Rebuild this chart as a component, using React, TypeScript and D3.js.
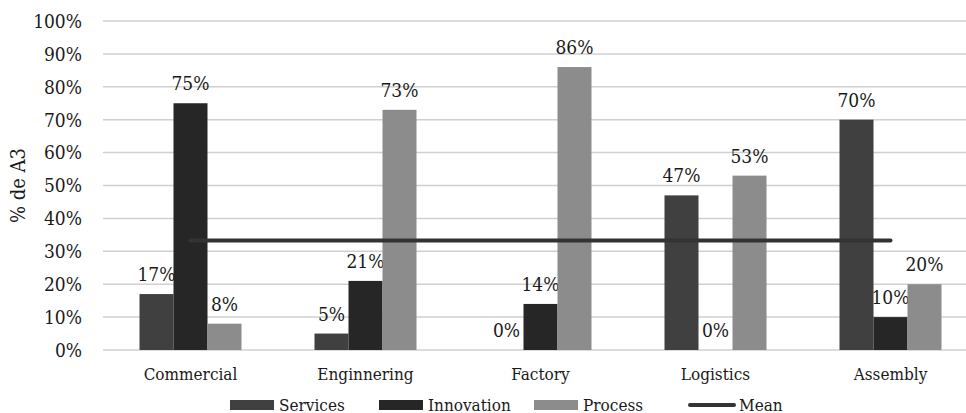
import React from "react";
import * as d3 from "d3";

const categories = ["Commercial", "Enginnering", "Factory", "Logistics", "Assembly"];
const seriesNames = ["Services", "Innovation", "Process"];
const services = [17, 5, 0, 47, 70];
const innovation = [75, 21, 14, 0, 10];
const process = [8, 73, 86, 53, 20];
const meanValue = 33.3;
const yTicks = [0, 10, 20, 30, 40, 50, 60, 70, 80, 90, 100];

const colors = ["#404040", "#262626", "#8c8c8c"];
const meanColor = "#333333";
const FONT = "'DejaVu Serif Condensed', 'DejaVu Serif', serif";

export default function App() {
  const width = 966;
  const height = 413;
  const left = 103;
  const bandW = 175;
  const x = d3
    .scaleBand<string>()
    .domain(categories)
    .range([left, left + bandW * categories.length])
    .paddingInner(0)
    .paddingOuter(0);
  const y = d3.scaleLinear().domain([0, 100]).range([350, 21]);
  const barW = 34;
  const series = [services, innovation, process];

  const legendItems = [
    { name: seriesNames[0], x: 230, kind: "rect", color: colors[0] },
    { name: seriesNames[1], x: 379, kind: "rect", color: colors[1] },
    { name: seriesNames[2], x: 534, kind: "rect", color: colors[2] },
    { name: "Mean", x: 690, kind: "line", color: meanColor },
  ];

  const first = x(categories[0])! + x.bandwidth() / 2;
  const last = x(categories[categories.length - 1])! + x.bandwidth() / 2;

  const textStyle = { fontFamily: FONT, fontStretch: "condensed" as const };

  return (
    <svg width={width} height={height} style={{ position: "absolute", left: 0, top: 0 }}>
      <rect width={width} height={height} fill="#ffffff" />
      {yTicks.map((t) => (
        <g key={t}>
          <line x1={left} x2={width} y1={y(t)} y2={y(t)} stroke="#d0d0d0" strokeWidth={1.5} />
          <text x={82} y={y(t)} dy="0.36em" textAnchor="end" style={textStyle} fontSize={19} fill="#1a1a1a">
            {t}%
          </text>
        </g>
      ))}
      <text
        transform={`translate(25,${y(50)}) rotate(-90)`}
        textAnchor="middle"
        style={textStyle}
        fontSize={20}
        fill="#1a1a1a"
      >
        % de A3
      </text>
      {categories.map((c, i) => {
        const cx = x(c)! + x.bandwidth() / 2;
        return (
          <g key={c}>
            {series.map((s, j) => {
              const bx = cx - (barW * 3) / 2 + j * barW;
              return (
                <g key={j}>
                  <rect x={bx} y={y(s[i])} width={barW} height={y(0) - y(s[i])} fill={colors[j]} />
                  <text
                    x={bx + barW / 2}
                    y={y(s[i]) - 13}
                    textAnchor="middle"
                    style={textStyle}
                    fontSize={19}
                    fill="#1a1a1a"
                  >
                    {s[i]}%
                  </text>
                </g>
              );
            })}
            <text x={cx} y={380} textAnchor="middle" style={textStyle} fontSize={17} fill="#1a1a1a">
              {c}
            </text>
          </g>
        );
      })}
      <line x1={first} x2={last} y1={y(meanValue)} y2={y(meanValue)} stroke={meanColor} strokeWidth={4} strokeLinecap="round" />
      {legendItems.map((it) => (
        <g key={it.name}>
          {it.kind === "rect" ? (
            <rect x={it.x} y={400} width={44} height={10} fill={it.color} />
          ) : (
            <line x1={it.x} x2={it.x + 44} y1={405} y2={405} stroke={it.color} strokeWidth={4} strokeLinecap="round" />
          )}
          <text x={it.x + 49} y={410.5} style={textStyle} fontSize={17} fill="#1a1a1a">
            {it.name}
          </text>
        </g>
      ))}
    </svg>
  );
}
